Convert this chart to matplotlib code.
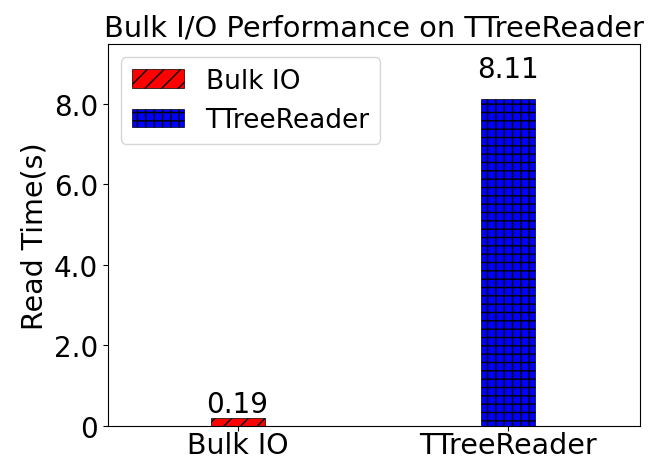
import numpy as np
import matplotlib
matplotlib.use('Agg')
import matplotlib.pyplot as plt

# Data
categories = ['Bulk IO', 'TTreeReader']
read_times = [0.19, 8.11]
colors = ['red', 'blue']
hatches = ['//', '++']

fig, ax = plt.subplots(figsize=(6.5, 4.6), dpi=100)

x = np.arange(len(categories))
for i in range(len(categories)):
    ax.bar(x[i], read_times[i], width=0.2, color=colors[i], edgecolor='black',
           linewidth=0.5, hatch=hatches[i], label=categories[i])
    # value label just above each bar
    ax.text(x[i], read_times[i] * 1.05, '%.2f' % read_times[i],
            ha='center', va='bottom', fontsize=20)

ax.set_xticks(x)
ax.set_xticklabels(categories, fontsize=20.5)
ax.tick_params(axis='x', pad=0.5)
ax.set_yticks([0, 2, 4, 6, 8])
ax.set_yticklabels(['0', '2.0', '4.0', '6.0', '8.0'], fontsize=20)
ax.set_xlim(-0.48, 1.49)
ax.set_ylim(0, 9.48)
ax.set_ylabel('Read Time(s)', fontsize=20.5)
ax.set_title('Bulk I/O Performance on TTreeReader', fontsize=20.8)
ax.legend(loc='upper left', fontsize=19)

plt.subplots_adjust(left=0.166, right=0.985, top=0.902, bottom=0.072)
plt.savefig('out.png')
